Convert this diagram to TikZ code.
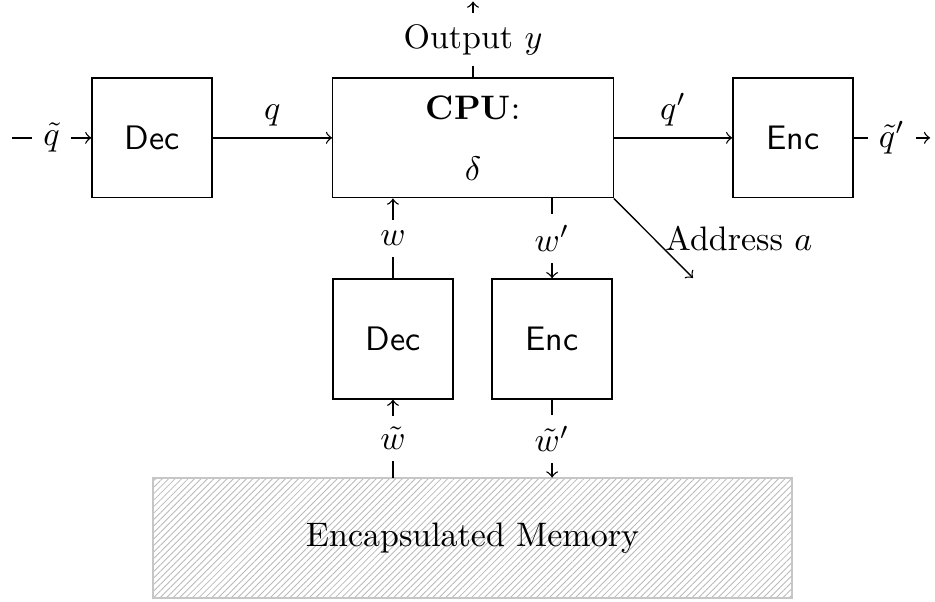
\documentclass[tikz,border=0pt]{standalone}
\usepackage{amsmath,amssymb,amsfonts}
\usetikzlibrary{patterns.meta}

\begin{document}
\begin{tikzpicture}[
		block/.style = {draw, minimum width = 1.24cm, minimum height = 1.24cm, font = \sffamily},
		cpublock/.style = {draw, minimum width = 2.9cm, minimum height = 1.24cm, align = center},
		memblock/.style = {draw = gray!45, pattern = {Lines[angle = 45, distance = 1.35pt, line width = 0.25pt]}, pattern color = gray!55, minimum width = 6.61cm, minimum height = 1.24cm},
		lbl/.style = {fill = white}
	]
				\useasboundingbox (0,0) rectangle (9.67,6.226);
				\node[block] (dec) at (1.572,4.80) {Dec};
				\node[cpublock] (cpu) at (4.892,4.80) {\textbf{CPU}:\\[6pt] $ \delta $};
				\node[block] (enc) at (8.20,4.80) {Enc};
				\node[block] (dectwo) at (4.064,2.72) {Dec};
				\node[block] (enctwo) at (5.71,2.72) {Enc};
				\node[memblock] (mem) at (4.887,0.662) {Encapsulated Memory};
				\coordinate (in) at (0.124,4.80);
				\coordinate (out) at (9.62,4.80);
				\coordinate (outy) at (4.892,6.21);
				\coordinate (addr) at (7.167,3.351);

				\draw[->] (in) -- node[lbl] { $ \tilde{q} $ } (dec);
				\draw[->] (dec) -- node[above] { $ q $ } (cpu);
				\draw[->] (cpu) -- node[above] { $ q' $ } (enc);
				\draw[->] (enc) -- node[lbl] { $ \tilde{q}' $ } (out);
				\draw[->] (cpu) -- node[lbl] { Output $ y $ } (outy);
				\draw[->] (cpu.south east) -- node[right] { Address $ a $ } (addr);
				\draw[->] (dectwo) -- node[lbl] { $ w $ } (cpu.south -| dectwo.north);
				\draw[->] (cpu.south -| enctwo.north) -- node[lbl] { $ w' $ } (enctwo);
				\draw[->] (mem.north -| dectwo.south) -- node[lbl] { $ \tilde{w} $ } (dectwo);
				\draw[->] (enctwo) -- node[lbl] { $ \tilde{w}' $ } (mem.north -| enctwo.south);
\end{tikzpicture}
\end{document}
